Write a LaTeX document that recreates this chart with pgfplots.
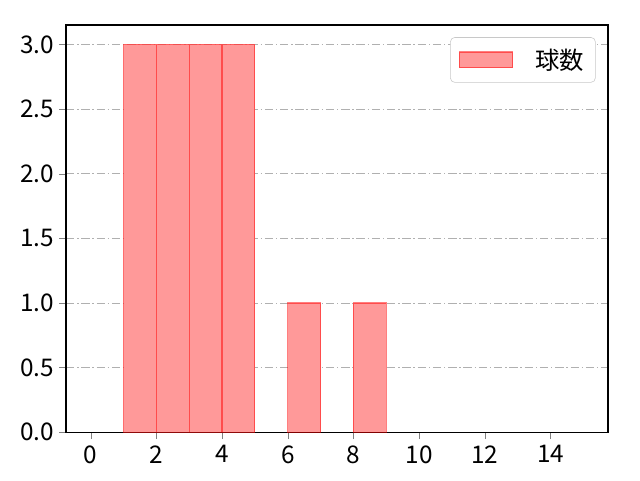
\documentclass[border=0pt]{standalone}
\usepackage{pgfplots}
\pgfplotsset{compat=1.18}
\usepackage{fontspec}
\setmainfont{Noto Sans CJK JP}
\definecolor{barfill}{HTML}{FF9999}
\definecolor{gridgray}{HTML}{B0B0B0}
\begin{document}
\begin{tikzpicture}
\begin{axis}[
    scale only axis,
    width=390pt, height=293pt,
    xmin=-0.75, xmax=15.75,
    ymin=0, ymax=3.15,
    xtick={0,2,...,14},
    ytick={0,0.5,...,3.0},
    yticklabel style={/pgf/number format/.cd, fixed, fixed zerofill, precision=1},
    /pgf/number format/assume math mode=true,
    tick label style={font=\fontsize{17.5}{20}\selectfont},
    xticklabel style={yshift=-1pt},
    tick align=outside,
    tick pos=left,
    major tick length=5pt,
    ymajorgrids=true,
    grid style={gridgray, dash pattern=on 6pt off 2pt on 1pt off 2pt, line width=0.6pt},
    axis line style={line width=0.8pt},
    legend style={at={(0.977,0.97)}, anchor=north east, draw=gridgray!70, rounded corners=3pt,
        font=\fontsize{17.5}{20}\selectfont, inner xsep=6pt, inner ysep=6pt},
    legend cell align=left,
    legend image code/.code={\draw[#1, sharp corners, draw opacity=0.5] (0cm,-0.2cm) rectangle (1.35cm,0.2cm);},
    legend style={column sep=4pt},
]
\addplot[ybar interval, fill=barfill, draw=red, draw opacity=0.5, line width=0.8pt]
    coordinates {(1,3)(2,3)(3,3)(4,3)(5,3)};
\addlegendentry{\hspace{10pt}球数}
\addplot[ybar interval, fill=barfill, draw=red, draw opacity=0.5, line width=0.8pt, forget plot]
    coordinates {(6,1)(7,1)};
\addplot[ybar interval, fill=barfill, draw=red, draw opacity=0.5, line width=0.8pt, forget plot]
    coordinates {(8,1)(9,1)};
\end{axis}
\pgfresetboundingbox
\path ([shift={(-47.5pt,-34.6pt)}]current axis.south west) rectangle ([shift={(23pt,18pt)}]current axis.north east);
\end{tikzpicture}
\end{document}
